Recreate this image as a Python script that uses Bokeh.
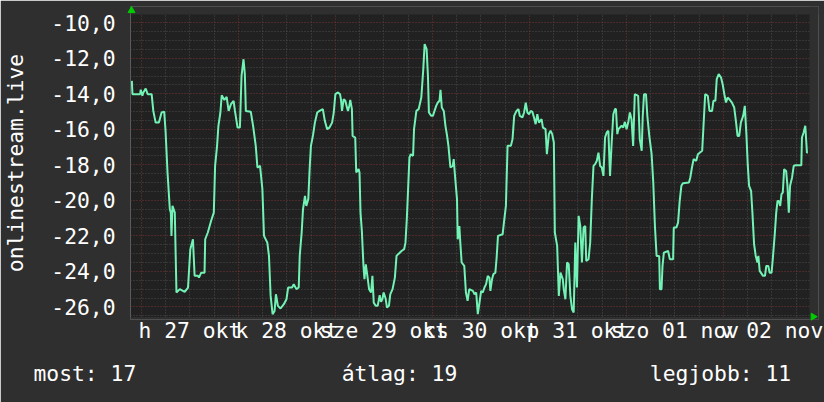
from bokeh.plotting import figure
from bokeh.models import Range1d, FixedTicker, BoxAnnotation, Title
from bokeh.embed import file_html
from bokeh.resources import INLINE
import math

# hours since 2014-10-27 00:00, and the (negative) rank value
hours = [-2.37, -2.21, -0.33, -0.16, 0.24, 0.49, 1.06, 1.55, 2.53, 2.94, 3.52, 4.33, 4.99, 5.64, 5.97,
         6.46, 7.03, 7.28, 7.44, 7.68, 8.26, 8.67, 9.48, 10.71, 11.53, 12.10, 12.75, 13.16, 13.98, 14.23,
         14.80, 15.62, 15.78, 16.43, 17.25, 17.91, 18.23, 18.72, 19.05, 19.54, 19.87, 20.52, 21.09, 21.58,
         22.16, 22.81, 23.14, 23.79, 24.37, 24.77, 25.26, 25.59, 25.84, 27.06, 27.63, 28.29, 28.70, 29.35,
         29.93, 30.33, 31.15, 31.56, 31.97, 32.46, 32.95, 33.28, 33.77, 34.42, 35.24, 35.89, 36.30, 37.28,
         37.69, 38.35, 38.92, 39.17, 39.65, 39.98, 40.47, 40.80, 41.29, 41.62, 41.94, 42.43, 42.92, 43.50,
         44.07, 44.89, 45.38, 45.95, 46.52, 47.18, 47.59, 47.99, 48.65, 49.14, 49.38, 49.63, 50.04, 50.45,
         50.86, 51.10, 51.43, 51.67, 52.08, 52.25, 52.90, 53.15, 53.72, 53.96, 54.21, 54.54, 54.94, 55.19,
         55.52, 56.01, 56.33, 56.82, 57.15, 57.48, 57.97, 58.46, 58.95, 59.28, 59.61, 59.93, 60.42, 60.75,
         61.24, 61.57, 62.14, 62.71, 63.12, 63.53, 64.35, 65.00, 65.33, 65.66, 65.98, 66.31, 66.64, 67.21,
         67.45, 68.03, 68.60, 69.25, 69.74, 70.07, 70.56, 70.89, 71.13, 71.71, 72.12, 72.52, 72.93, 73.34,
         73.75, 74.00, 74.32, 74.81, 75.22, 75.63, 75.96, 76.45, 77.02, 77.27, 77.59, 78.08, 78.25, 78.66,
         78.90, 79.23, 79.88, 80.29, 80.70, 81.11, 82.01, 82.42, 82.83, 83.23, 83.64, 84.05, 84.46, 84.87,
         85.28, 85.69, 86.10, 86.34, 86.75, 87.08, 87.57, 87.89, 88.22, 89.37, 89.69, 90.18, 90.59, 91.41,
         91.82, 92.23, 92.80, 93.29, 93.62, 94.27, 94.68, 95.09, 95.50, 95.91, 96.32, 96.73, 97.13, 97.54,
         97.95, 98.36, 99.01, 99.34, 99.99, 100.32, 100.81, 101.22, 101.63, 102.04, 102.29, 102.86, 103.27,
         103.68, 104.25, 104.49, 104.90, 105.31, 105.72, 106.13, 106.54, 106.95, 107.35, 107.76, 108.17,
         108.58, 108.99, 109.40, 109.81, 110.05, 110.63, 111.03, 111.44, 111.85, 112.26, 112.67, 113.08,
         113.49, 113.90, 114.31, 114.71, 115.12, 115.53, 115.94, 116.35, 116.76, 117.17, 117.41, 117.74,
         117.99, 118.80, 119.21, 119.62, 120.03, 120.44, 120.85, 121.26, 121.66, 122.07, 122.89, 123.30,
         123.78, 124.02, 124.35, 124.84, 125.17, 125.66, 126.23, 126.64, 127.05, 127.46, 128.11, 128.28,
         128.68, 128.93, 129.26, 130.32, 130.73, 131.55, 131.71, 132.36, 132.77, 133.18, 133.59, 134.00,
         135.47, 135.80, 136.21, 136.62, 137.27, 137.68, 138.74, 139.07, 139.48, 140.13, 140.54, 141.19,
         141.52, 142.01, 142.34, 142.83, 143.40, 143.81, 144.22, 144.63, 145.04, 145.45, 146.10, 146.67,
         147.08, 147.49, 147.90, 148.31, 148.88, 149.29, 149.70, 150.03, 150.35, 150.84, 151.17, 151.58,
         151.99, 152.40, 152.64, 152.97, 153.79, 154.28, 154.60, 155.09, 155.42, 155.91, 156.24, 156.73,
         157.06, 157.38, 157.71, 158.04, 158.37, 158.69, 159.02, 159.51, 159.84, 160.17, 160.49, 160.98,
         161.39, 161.80, 163.27, 163.43, 163.84, 164.25, 164.66, 164.90]
values = [-13.27, -14.02, -14.02, -13.77, -14.11, -13.92, -13.70, -14.02, -14.02, -14.96, -15.62, -15.62, -15.05, -15.00, -16.08,
          -18.43, -20.50, -20.69, -22.00, -20.31, -20.69, -25.19, -25.00, -25.15, -24.91, -22.75, -22.19, -24.25, -24.25, -24.35,
          -24.07, -24.07, -22.19, -21.81, -21.15, -20.69, -18.06, -16.93, -15.80, -15.05, -14.08, -14.34, -14.17, -14.96,
          -14.58, -14.39, -14.96, -15.90, -15.90, -12.99, -12.05, -12.89, -14.96, -15.01, -15.80, -16.93, -18.15, -18.06,
          -19.37, -22.00, -22.38, -23.13, -25.38, -26.41, -26.23, -25.29, -25.94, -26.09, -25.85, -25.57, -24.91, -24.91,
          -24.72, -25.00, -24.91, -23.13, -21.81, -20.50, -19.75, -20.31, -19.93, -18.24, -16.93, -16.37, -15.62, -15.05,
          -14.96, -14.86, -15.52, -15.99, -15.90, -15.62, -15.05, -14.02, -13.92, -14.02, -14.34, -14.96, -14.30, -14.39,
          -14.77, -14.96, -14.68, -14.34, -14.86, -16.37, -16.46, -18.43, -18.24, -18.43, -20.69, -21.72, -23.69, -24.44,
          -23.60, -24.44, -25.00, -25.19, -24.25, -25.76, -25.94, -25.94, -25.34, -25.72, -25.57, -25.19, -25.53, -26.04,
          -25.94, -25.29, -25.00, -24.35, -23.13, -23.03, -22.85, -22.75, -22.38, -21.06, -19.37, -17.59, -17.40, -17.49,
          -15.99, -14.96, -14.86, -14.21, -12.61, -11.20, -11.48, -12.99, -15.05, -15.24, -15.24, -14.96, -14.68, -14.49,
          -14.39, -13.77, -14.77, -14.96, -15.80, -16.37, -16.93, -18.15, -18.06, -17.68, -18.62, -19.93, -22.19, -21.44,
          -22.38, -23.50, -23.69, -25.19, -25.66, -25.00, -25.10, -25.29, -25.19, -26.41, -25.76, -25.10, -25.19, -24.91,
          -24.72, -24.25, -24.35, -25.10, -24.44, -24.16, -24.07, -23.22, -22.00, -21.91, -21.25, -20.31, -16.93, -16.93,
          -16.55, -15.24, -14.96, -14.86, -15.24, -15.33, -15.05, -14.49, -15.05, -15.15, -14.96, -15.01, -15.33, -15.71,
          -15.15, -15.62, -15.43, -15.90, -15.99, -17.40, -16.27, -16.08, -16.27, -16.74, -21.81, -22.56, -25.38,
          -24.07, -24.44, -25.00, -25.57, -23.50, -23.60, -25.38, -26.13, -26.32, -22.38, -24.91, -20.87,
          -21.44, -23.50, -21.53, -21.44, -23.41, -23.31, -22.38, -19.93, -18.06, -17.96, -17.77, -17.31,
          -18.06, -18.15, -18.62, -16.46, -16.18, -16.08, -18.62, -16.74, -15.15, -14.86, -14.86, -16.27,
          -15.99, -15.80, -15.90, -15.58, -15.99, -15.62, -15.05, -15.43, -16.93, -14.02, -14.11, -16.55,
          -17.21, -15.33, -14.02, -14.02, -15.24, -16.37, -17.40, -19.00, -21.44, -23.13, -23.13, -25.00,
          -25.00, -23.69, -22.94, -22.85, -23.31, -23.31, -21.53, -21.53, -21.25, -20.03, -19.18, -19.03,
          -19.00, -18.71, -18.15, -17.68, -17.77, -17.40, -17.21, -15.80, -14.02, -14.11, -14.96, -14.96,
          -14.39, -14.39, -13.17, -12.89, -13.08, -13.46, -14.02, -14.49, -14.21, -14.30, -14.49, -14.77,
          -15.52, -16.37, -16.37, -15.62, -15.24, -14.68, -16.37, -18.06, -19.18, -19.46, -20.69, -22.47,
          -23.13, -23.50, -23.13, -23.97, -24.25, -24.25, -23.69, -23.69, -24.07, -24.07, -23.22, -21.81,
          -20.69, -20.03, -20.03, -20.31, -19.65, -19.56, -18.24, -18.34, -19.18, -20.69, -19.18, -18.71,
          -18.06, -18.02, -18.02, -16.46, -16.18, -15.80, -17.31, -17.31]

day_labels = ["h 27 okt", "k 28 okt", "sze 29 okt", "cs 30 okt", "p 31 okt", "szo 01 nov", "v 02 nov"]
day_starts = [0, 24, 48, 72, 96, 120, 144]
y_ticks = [-26, -24, -22, -20, -18, -16, -14, -12, -10]
y_tick_labels = ["-26,0", "-24,0", "-22,0", "-20,0", "-18,0", "-16,0", "-14,0", "-12,0", "-10,0"]
series_name = "onlinestream.live"
stat_texts = ["most: 17", "átlag: 19", "legjobb: 11"]
stat_gaps = [16, 15]  # monospace columns between the GPRINT fields

FONT = "DejaVu Sans Mono"
FS = "16pt"
OUTER = "#2f2f2f"
INNER = "#212121"

# data window (dark area) and the slightly larger frame that also holds the axis arrows
X0, X1 = -2.7, 165.3
Y0, Y1 = -26.57, -9.53

p = figure(width=824, height=402, output_backend="svg", toolbar_location=None,
           x_range=Range1d(X0, 167.52), y_range=Range1d(-26.71, -9.08),
           min_border_left=124, min_border_right=6, min_border_top=6, min_border_bottom=83,
           background_fill_color=INNER, border_fill_color=OUTER, outline_line_color=None)

p.line(hours, values, line_color="#72F2B4", line_width=2)

# grids
minor_x = [h for h in range(6, 168, 6) if h % 24]
p.xgrid.ticker = FixedTicker(ticks=day_starts, minor_ticks=minor_x)
minor_y = [v / 2 for v in range(-53, -18) if v % 4]
p.ygrid.ticker = FixedTicker(ticks=y_ticks, minor_ticks=minor_y)
for g in (p.xgrid, p.ygrid):
    g.grid_line_color = "#7a3434"
    g.grid_line_dash = "1 2"
    g.grid_line_width = 1
    g.minor_grid_line_color = "#4c4c4c"
    g.minor_grid_line_dash = "1 2"
    g.minor_grid_line_width = 1

# mask the frame margins outside the data window
for kw in (dict(left=X1), dict(bottom=Y1), dict(top=Y0)):
    p.add_layout(BoxAnnotation(fill_color=OUTER, fill_alpha=1.0, line_color=None, **kw))

# rrdtool-style axis arrows
p.scatter([X0 + 0.25], [Y1 + 0.22], marker="triangle", size=7, fill_color="#00cc00",
          line_color="#00cc00", level="overlay")
p.scatter([X1 + 0.9], [Y0 + 0.02], marker="triangle", size=7, angle=-math.pi / 2,
          fill_color="#00cc00", line_color="#00cc00", level="overlay")

# axes
p.xaxis.ticker = FixedTicker(ticks=[d + 12 for d in day_starts])
p.xaxis.major_label_overrides = {d + 12: lab for d, lab in zip(day_starts, day_labels)}
p.yaxis.ticker = FixedTicker(ticks=y_ticks)
p.yaxis.major_label_overrides = {t: lab for t, lab in zip(y_ticks, y_tick_labels)}
for ax in (p.xaxis, p.yaxis):
    ax.axis_line_color = None
    ax.major_tick_line_color = None
    ax.minor_tick_line_color = None
    ax.major_tick_out = 0
    ax.major_tick_in = 0
    ax.minor_tick_out = 0
    ax.minor_tick_in = 0
    ax.major_label_text_font = FONT
    ax.major_label_text_font_size = FS
    ax.major_label_text_color = "#ffffff"
p.xaxis.major_label_standoff = -2
p.yaxis.major_label_standoff = 15
p.yaxis.axis_label = series_name
p.yaxis.axis_label_text_font = FONT
p.yaxis.axis_label_text_font_size = FS
p.yaxis.axis_label_text_font_style = "normal"
p.yaxis.axis_label_text_color = "#ffffff"
p.yaxis.axis_label_standoff = 20

# statistics row (rrdtool GPRINT line), monospace columns
NBSP = "\u00a0"
stats_line = stat_texts[0] + NBSP * stat_gaps[0] + stat_texts[1] + NBSP * stat_gaps[1] + stat_texts[2]
p.add_layout(Title(text=stats_line, align="left", offset=-97, vertical_align="middle",
                   standoff=29, text_font=FONT, text_font_size=FS, text_font_style="normal",
                   text_color="#ffffff"), "below")

open("out.html", "w").write(file_html(p, INLINE, title="onlinestream.live"))
